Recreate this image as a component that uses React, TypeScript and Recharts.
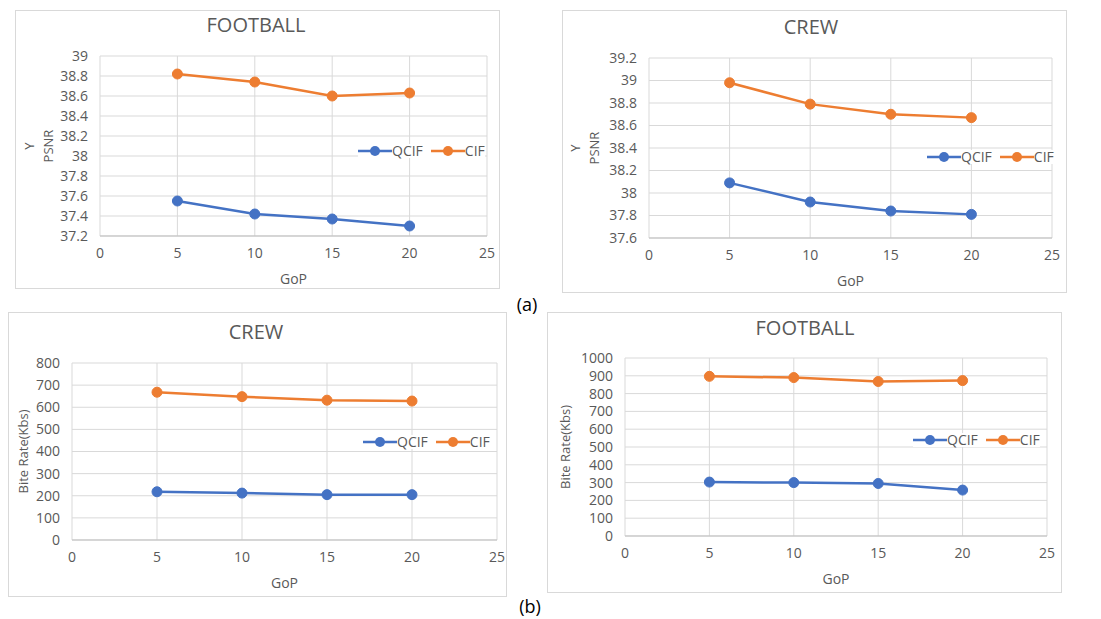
import React from "react";
import {
  LineChart,
  Line,
  XAxis,
  YAxis,
  CartesianGrid,
  Legend,
  Label,
} from "recharts";

const gop = [5, 10, 15, 20];
const xTicks = [0, 5, 10, 15, 20, 25];

const footballPsnrQcif = [37.55, 37.42, 37.37, 37.3];
const footballPsnrCif = [38.82, 38.74, 38.6, 38.63];
const crewPsnrQcif = [38.09, 37.92, 37.84, 37.81];
const crewPsnrCif = [38.98, 38.79, 38.7, 38.67];
const crewRateQcif = [218, 212, 205, 205];
const crewRateCif = [668, 648, 632, 628];
const footballRateQcif = [303, 300, 295, 258];
const footballRateCif = [897, 890, 868, 873];

const footballPsnrTicks = [37.2, 37.4, 37.6, 37.8, 38, 38.2, 38.4, 38.6, 38.8, 39];
const crewPsnrTicks = [37.6, 37.8, 38, 38.2, 38.4, 38.6, 38.8, 39, 39.2];
const crewRateTicks = [0, 100, 200, 300, 400, 500, 600, 700, 800];
const footballRateTicks = [0, 100, 200, 300, 400, 500, 600, 700, 800, 900, 1000];

const BLUE = "#4472C4";
const ORANGE = "#ED7D31";
const GRID = "#d9d9d9";
const TEXT = "#595959";
const FONT = "'Open Sans', 'Noto Sans', sans-serif";

const toRows = (qcif: number[], cif: number[]) =>
  gop.map((g, i) => ({ gop: g, QCIF: qcif[i], CIF: cif[i] }));

interface PanelProps {
  left: number;
  top: number;
  width: number;
  height: number;
  plot: { left: number; right: number; top: number; bottom: number };
  title: string;
  titleX: number;
  titleY: number;
  yLines: string[];
  yLabelX: number;
  yTicks: number[];
  legend: { x: number; y: number };
  qcif: number[];
  cif: number[];
}

function LegendBox() {
  const items = [
    { name: "QCIF", color: BLUE },
    { name: "CIF", color: ORANGE },
  ];
  return (
    <div style={{ display: "flex", alignItems: "center", background: "#fff", gap: 8 }}>
      {items.map((it) => (
        <div key={it.name} style={{ display: "flex", alignItems: "center" }}>
          <svg width={34} height={12}>
            <line x1={0} y1={6} x2={34} y2={6} stroke={it.color} strokeWidth={2.5} />
            <circle cx={17} cy={6} r={5} fill={it.color} />
          </svg>
          <span style={{ fontSize: 14, color: TEXT, fontFamily: FONT, lineHeight: "14px" }}>
            {it.name}
          </span>
        </div>
      ))}
    </div>
  );
}

function Panel(p: PanelProps) {
  const data = toRows(p.qcif, p.cif);
  const plotH = p.height - p.plot.top - p.plot.bottom;
  const cy = p.plot.top + plotH / 2;
  return (
    <div
      style={{
        position: "absolute",
        left: p.left,
        top: p.top,
        width: p.width,
        height: p.height,
        border: "1px solid #d9d9d9",
        boxSizing: "border-box",
        background: "#fff",
      }}
    >
      <div
        style={{
          position: "absolute",
          left: 0,
          width: p.width,
          top: p.titleY - 13,
          textAlign: "center",
          fontSize: 20,
          lineHeight: "26px",
          color: TEXT,
          fontFamily: FONT,
          transform: `translateX(${p.titleX - p.width / 2}px)`,
        }}
      >
        {p.title}
      </div>
      <LineChart
        width={p.width - 2}
        height={p.height - 2}
        data={data}
        margin={{ top: p.plot.top - 1, right: p.plot.right - 1, left: 0, bottom: 0 }}
        style={{ position: "absolute", left: 0, top: 0 }}
      >
        <CartesianGrid stroke={GRID} strokeWidth={1} />
        <XAxis
          dataKey="gop"
          type="number"
          domain={[0, 25]}
          ticks={xTicks}
          interval={0}
          height={p.plot.bottom - 1}
          axisLine={{ stroke: "#bfbfbf" }}
          tickLine={false}
          tickSize={0}
          tickMargin={12}
          tick={{ fill: TEXT, fontSize: 14, fontFamily: FONT }}
        >
          <Label
            content={({ viewBox }: any) => (
              <text
                x={viewBox.x + viewBox.width / 2}
                y={viewBox.y + 42}
                textAnchor="middle"
                dominantBaseline="central"
                fill={TEXT}
                fontSize={14}
                fontFamily={FONT}
              >
                GoP
              </text>
            )}
          />
        </XAxis>
        <YAxis
          type="number"
          domain={[p.yTicks[0], p.yTicks[p.yTicks.length - 1]]}
          ticks={p.yTicks}
          interval={0}
          width={p.plot.left - 1}
          axisLine={false}
          tickLine={false}
          tickSize={0}
          tickMargin={12}
          tick={{ fill: TEXT, fontSize: 14, fontFamily: FONT }}
        >
          <Label
            content={() => (
              <text
                transform={`translate(${p.yLabelX - 1},${cy - 1}) rotate(-90)`}
                textAnchor="middle"
                fill={TEXT}
                fontSize={13}
                fontFamily={FONT}
              >
                {p.yLines.map((l, i) => (
                  <tspan key={l} x={0} dy={i === 0 ? (p.yLines.length > 1 ? -4 : 4) : 19}>
                    {l}
                  </tspan>
                ))}
              </text>
            )}
          />
        </YAxis>
        <Legend
          layout="horizontal"
          verticalAlign="middle"
          align="center"
          content={() => <LegendBox />}
          wrapperStyle={{ position: "absolute", left: p.legend.x - 1, top: p.legend.y - 8, width: "auto" }}
        />
        <Line
          dataKey="QCIF"
          stroke={BLUE}
          strokeWidth={2.5}
          dot={{ r: 5, fill: BLUE, stroke: BLUE, strokeWidth: 1 }}
          isAnimationActive={false}
        />
        <Line
          dataKey="CIF"
          stroke={ORANGE}
          strokeWidth={2.5}
          dot={{ r: 5, fill: ORANGE, stroke: ORANGE, strokeWidth: 1 }}
          isAnimationActive={false}
        />
      </LineChart>
    </div>
  );
}

export default function App() {
  return (
    <div
      style={{
        position: "absolute",
        left: 0,
        top: 0,
        width: 1101,
        height: 619,
        background: "#fff",
        overflow: "hidden",
      }}
    >
      <Panel
        left={15}
        top={10}
        width={485}
        height={279}
        plot={{ left: 85, right: 13, top: 46, bottom: 53 }}
        title="FOOTBALL"
        titleX={240}
        titleY={14}
        yLines={["Y", "PSNR"]}
        yLabelX={23}
        yTicks={footballPsnrTicks}
        legend={{ x: 343, y: 141 }}
        qcif={footballPsnrQcif}
        cif={footballPsnrCif}
      />
      <Panel
        left={562}
        top={10}
        width={505}
        height={283}
        plot={{ left: 87, right: 15, top: 48, bottom: 55 }}
        title="CREW"
        titleX={248}
        titleY={16}
        yLines={["Y", "PSNR"]}
        yLabelX={22}
        yTicks={crewPsnrTicks}
        legend={{ x: 365, y: 147 }}
        qcif={crewPsnrQcif}
        cif={crewPsnrCif}
      />
      <Panel
        left={8}
        top={312}
        width={499}
        height={285}
        plot={{ left: 64, right: 10, top: 51, bottom: 57 }}
        title="CREW"
        titleX={247}
        titleY={19}
        yLines={["Bite Rate(Kbs)"]}
        yLabelX={16}
        yTicks={crewRateTicks}
        legend={{ x: 355, y: 130 }}
        qcif={crewRateQcif}
        cif={crewRateCif}
      />
      <Panel
        left={547}
        top={312}
        width={515}
        height={281}
        plot={{ left: 78, right: 15, top: 46, bottom: 57 }}
        title="FOOTBALL"
        titleX={257}
        titleY={15}
        yLines={["Bite Rate(Kbs)"]}
        yLabelX={19}
        yTicks={footballRateTicks}
        legend={{ x: 366, y: 128 }}
        qcif={footballRateQcif}
        cif={footballRateCif}
      />
      <div
        style={{
          position: "absolute",
          left: 507,
          top: 292,
          width: 40,
          textAlign: "center",
          fontSize: 18,
          fontFamily: FONT,
          color: "#000",
        }}
      >
        (a)
      </div>
      <div
        style={{
          position: "absolute",
          left: 510,
          top: 594,
          width: 40,
          textAlign: "center",
          fontSize: 18,
          fontFamily: FONT,
          color: "#000",
        }}
      >
        (b)
      </div>
    </div>
  );
}
